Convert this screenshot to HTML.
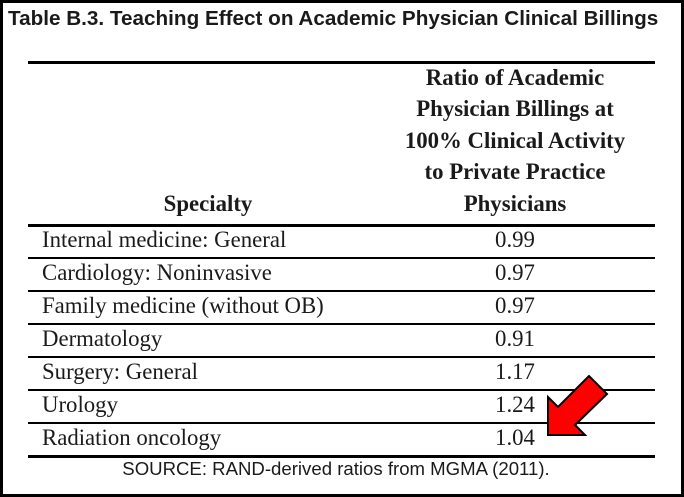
<!DOCTYPE html>
<html><head><style>
html,body{margin:0;padding:0;}
body{width:684px;height:497px;position:relative;background:#fff;overflow:hidden;}
.frame{position:absolute;left:0;top:0;width:678px;height:491px;border:3px solid #000;}
.t{position:absolute;white-space:nowrap;color:#1a1a1a;}
.title{left:8px;top:7px;font:bold 20.7px "Liberation Sans",sans-serif;}
.hl{position:absolute;left:28px;width:627px;background:#000;}
.serif{font-family:"Liberation Serif",serif;font-size:22.8px;}
.b{font-weight:bold;}
.c{transform:translateX(-50%);}
.src{font:18.6px "Liberation Sans",sans-serif;}
</style></head><body>
<div class="frame"></div>
<div class="t title">Table B.3. Teaching Effect on Academic Physician Clinical Billings</div>
<div class="hl" style="top:61px;height:3px"></div>
<div class="hl" style="top:224px;height:3px"></div>
<div class="hl" style="top:257px;height:2px"></div>
<div class="hl" style="top:290px;height:2px"></div>
<div class="hl" style="top:323px;height:2px"></div>
<div class="hl" style="top:356px;height:2px"></div>
<div class="hl" style="top:389px;height:2px"></div>
<div class="hl" style="top:422px;height:2px"></div>
<div class="hl" style="top:455px;height:3px"></div>

<div class="t serif b c" style="left:515px;top:65px">Ratio of Academic</div>
<div class="t serif b c" style="left:515px;top:96px">Physician Billings at</div>
<div class="t serif b c" style="left:515px;top:128px">100% Clinical Activity</div>
<div class="t serif b c" style="left:515px;top:159px">to Private Practice</div>
<div class="t serif b c" style="left:515px;top:191px">Physicians</div>
<div class="t serif b c" style="left:208px;top:191px">Specialty</div>

<div class="t serif" style="left:42px;top:227px">Internal medicine: General</div>
<div class="t serif" style="left:42px;top:260px">Cardiology: Noninvasive</div>
<div class="t serif" style="left:42px;top:293px">Family medicine (without OB)</div>
<div class="t serif" style="left:42px;top:326px">Dermatology</div>
<div class="t serif" style="left:42px;top:359px">Surgery: General</div>
<div class="t serif" style="left:42px;top:392px">Urology</div>
<div class="t serif" style="left:42px;top:425px">Radiation oncology</div>

<div class="t serif c" style="left:515px;top:227px">0.99</div>
<div class="t serif c" style="left:515px;top:260px">0.97</div>
<div class="t serif c" style="left:515px;top:293px">0.97</div>
<div class="t serif c" style="left:515px;top:326px">0.91</div>
<div class="t serif c" style="left:515px;top:359px">1.17</div>
<div class="t serif c" style="left:515px;top:392px">1.24</div>
<div class="t serif c" style="left:515px;top:425px">1.04</div>

<div class="t src c" style="left:336px;top:458px">SOURCE: RAND-derived ratios from MGMA (2011).</div>

<svg style="position:absolute;left:0;top:0" width="684" height="497">
<polygon points="548,435 548,397 558,407 589,376 607,394 575,425 585,435" fill="#f00" stroke="#000" stroke-width="2" stroke-linejoin="miter"/>
</svg>
</body></html>
